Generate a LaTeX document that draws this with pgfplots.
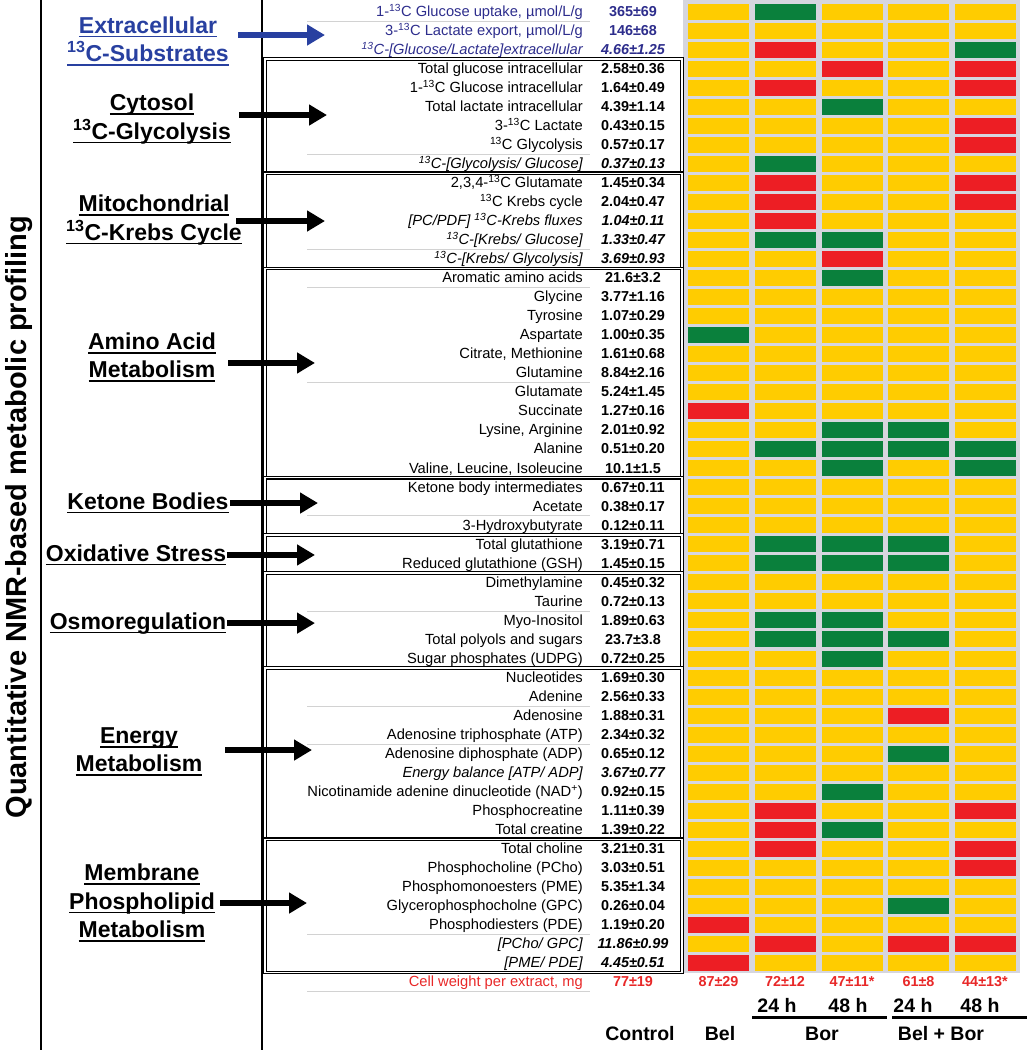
\documentclass[border=0pt]{standalone}
\usepackage{pgfplots}
\pgfplotsset{compat=1.18}
\usepackage{pgfplotstable}
\usepackage{fontspec}
\setmainfont{Liberation Sans}
\usetikzlibrary{arrows.meta}

\definecolor{cy}{RGB}{255,204,0}
\definecolor{cg}{RGB}{10,128,60}
\definecolor{cr}{RGB}{237,30,36}
\definecolor{cbg}{RGB}{214,214,222}
\definecolor{cblue}{RGB}{45,45,140}
\definecolor{cblue2}{RGB}{40,64,160}
\definecolor{cred}{RGB}{232,40,40}

% one cell of the grid: 61 x 16
\pgfdeclareplotmark{cell}{\pgfpathrectangle{\pgfpoint{-30.5pt}{-8pt}}{\pgfpoint{61pt}{16pt}}\pgfusepathqfill}

\newcommand\ul[2][black]{\setbox0\hbox{#2}\rlap{\color{#1}\rule[-4.2pt]{\wd0}{1.7pt}}\box0}

% Y = yellow (no change), G = green, R = red
\pgfplotstableread{
row Bel Bor24 Bor48 BB24 BB48
1 Y G Y Y Y
2 Y Y Y Y Y
3 Y R Y Y G
4 Y Y R Y R
5 Y R Y Y R
6 Y Y G Y Y
7 Y Y Y Y R
8 Y Y Y Y R
9 Y G Y Y Y
10 Y R Y Y R
11 Y R Y Y R
12 Y R Y Y Y
13 Y G G Y Y
14 Y Y R Y Y
15 Y Y G Y Y
16 Y Y Y Y Y
17 Y Y Y Y Y
18 G Y Y Y Y
19 Y Y Y Y Y
20 Y Y Y Y Y
21 Y Y Y Y Y
22 R Y Y Y Y
23 Y Y G G Y
24 Y G G G G
25 Y Y G Y G
26 Y Y Y Y Y
27 Y Y Y Y Y
28 Y Y Y Y Y
29 Y G G G Y
30 Y G G G Y
31 Y Y Y Y Y
32 Y Y Y Y Y
33 Y G G Y Y
34 Y G G G Y
35 Y Y G Y Y
36 Y Y Y Y Y
37 Y Y Y Y Y
38 Y Y Y R Y
39 Y Y Y Y Y
40 Y Y Y G Y
41 Y Y Y Y Y
42 Y Y G Y Y
43 Y R Y Y R
44 Y R G Y Y
45 Y R Y Y R
46 Y Y Y Y R
47 Y Y Y Y Y
48 Y Y Y G Y
49 R Y Y Y Y
50 Y R Y R R
51 R Y Y Y Y
}\cells

\pgfplotsset{
  cellplot/.style={scatter, only marks, point meta=explicit symbolic,
    scatter/classes={Y={mark=cell,fill=cy},G={mark=cell,fill=cg},R={mark=cell,fill=cr}}},
}
\tikzset{
  lab/.style={anchor=base east, yshift=-4.8pt, inner sep=0pt, font=\fontsize{14.7}{16}\selectfont},
  val/.style={anchor=base, yshift=-4.8pt, inner sep=0pt, font=\fontsize{14.4}{16}\selectfont\bfseries},
  grp/.style={align=center, inner sep=0pt, font=\fontsize{23}{28.5}\selectfont\bfseries},
  hdr/.style={anchor=base, inner sep=0pt, font=\fontsize{19.5}{22}\selectfont\bfseries},
  arr/.style={line width=6pt, -{Triangle[length=18pt,width=20pt]}},
  box/.style={double, line width=1.1pt, double distance=1.5pt},
}
\newcommand\rl[3]{\node[lab] at (axis cs:583,#1) {#2};\node[val] at (axis cs:633,#1) {#3};}

\begin{document}
\begin{tikzpicture}
\useasboundingbox (0,0) rectangle (1032pt,1050pt);
\begin{axis}[
  at={(0,0)}, anchor=south west,
  width=1032pt, height=1050pt, scale only axis,
  xmin=0, xmax=1032, ymin=0.397, ymax=55.574,
  y dir=reverse, hide axis, clip=false,
]
% grey ground of the grid
\fill[cbg] (axis cs:683,0.397) rectangle (axis cs:1020,51.53);

\addplot[cellplot] table[x expr=718.5, y=row, meta=Bel]   {\cells};
\addplot[cellplot] table[x expr=785,   y=row, meta=Bor24] {\cells};
\addplot[cellplot] table[x expr=852,   y=row, meta=Bor48] {\cells};
\addplot[cellplot] table[x expr=918.5, y=row, meta=BB24]  {\cells};
\addplot[cellplot] table[x expr=985,   y=row, meta=BB48]  {\cells};

% frame lines
\draw[line width=1.3pt] (axis cs:41,0.397) -- (axis cs:41,55.574);
\draw[line width=1.3pt] (axis cs:262,0.397) -- (axis cs:262,55.574);

% thin grey rules under some rows
\pgfplotsinvokeforeach{1.5,8.5,13.5,15.5,20.5,27.5,32.5,37.5,39.5,49.5,52.5}{
  \draw[gray!35, line width=0.8pt] (axis cs:307,#1) -- (axis cs:590,#1);
}

% group boxes
\draw[box] (axis cs:265,3.5) rectangle (axis cs:682,9.5);
\draw[box] (axis cs:265,9.5) rectangle (axis cs:682,14.5);
\draw[box] (axis cs:265,14.5) rectangle (axis cs:682,25.5);
\draw[box] (axis cs:265,25.5) rectangle (axis cs:682,28.5);
\draw[box] (axis cs:265,28.5) rectangle (axis cs:682,30.5);
\draw[box] (axis cs:265,30.5) rectangle (axis cs:682,35.5);
\draw[box] (axis cs:265,35.5) rectangle (axis cs:682,44.5);
\draw[box] (axis cs:265,44.5) rectangle (axis cs:682,51.5);

% row labels and control values
\begin{scope}[cblue]
\rl{1}{1-\textsuperscript{13}C Glucose uptake, µmol/L/g}{365±69}
\rl{2}{3-\textsuperscript{13}C Lactate export, µmol/L/g}{146±68}
\rl{3}{\itshape\textsuperscript{13}C-[Glucose/Lactate]extracellular}{\itshape 4.66±1.25}
\end{scope}
\rl{4}{Total glucose intracellular}{2.58±0.36}
\rl{5}{1-\textsuperscript{13}C Glucose intracellular}{1.64±0.49}
\rl{6}{Total lactate intracellular}{4.39±1.14}
\rl{7}{3-\textsuperscript{13}C Lactate}{0.43±0.15}
\rl{8}{\textsuperscript{13}C Glycolysis}{0.57±0.17}
\rl{9}{\itshape\textsuperscript{13}C-[Glycolysis/ Glucose]}{\itshape 0.37±0.13}
\rl{10}{2,3,4-\textsuperscript{13}C Glutamate}{1.45±0.34}
\rl{11}{\textsuperscript{13}C Krebs cycle}{2.04±0.47}
\rl{12}{\itshape [PC/PDF] \textsuperscript{13}C-Krebs fluxes}{\itshape 1.04±0.11}
\rl{13}{\itshape\textsuperscript{13}C-[Krebs/ Glucose]}{\itshape 1.33±0.47}
\rl{14}{\itshape\textsuperscript{13}C-[Krebs/ Glycolysis]}{\itshape 3.69±0.93}
\rl{15}{Aromatic amino acids}{21.6±3.2}
\rl{16}{Glycine}{3.77±1.16}
\rl{17}{Tyrosine}{1.07±0.29}
\rl{18}{Aspartate}{1.00±0.35}
\rl{19}{Citrate, Methionine}{1.61±0.68}
\rl{20}{Glutamine}{8.84±2.16}
\rl{21}{Glutamate}{5.24±1.45}
\rl{22}{Succinate}{1.27±0.16}
\rl{23}{Lysine, Arginine}{2.01±0.92}
\rl{24}{Alanine}{0.51±0.20}
\rl{25}{Valine, Leucine, Isoleucine}{10.1±1.5}
\rl{26}{Ketone body intermediates}{0.67±0.11}
\rl{27}{Acetate}{0.38±0.17}
\rl{28}{3-Hydroxybutyrate}{0.12±0.11}
\rl{29}{Total glutathione}{3.19±0.71}
\rl{30}{Reduced glutathione (GSH)}{1.45±0.15}
\rl{31}{Dimethylamine}{0.45±0.32}
\rl{32}{Taurine}{0.72±0.13}
\rl{33}{Myo-Inositol}{1.89±0.63}
\rl{34}{Total polyols and sugars}{23.7±3.8}
\rl{35}{Sugar phosphates (UDPG)}{0.72±0.25}
\rl{36}{Nucleotides}{1.69±0.30}
\rl{37}{Adenine}{2.56±0.33}
\rl{38}{Adenosine}{1.88±0.31}
\rl{39}{Adenosine triphosphate (ATP)}{2.34±0.32}
\rl{40}{Adenosine diphosphate (ADP)}{0.65±0.12}
\rl{41}{\itshape Energy balance [ATP/ ADP]}{\itshape 3.67±0.77}
\rl{42}{Nicotinamide adenine dinucleotide (NAD\textsuperscript{+})}{0.92±0.15}
\rl{43}{Phosphocreatine}{1.11±0.39}
\rl{44}{Total creatine}{1.39±0.22}
\rl{45}{Total choline}{3.21±0.31}
\rl{46}{Phosphocholine (PCho)}{3.03±0.51}
\rl{47}{Phosphomonoesters (PME)}{5.35±1.34}
\rl{48}{Glycerophosphocholne (GPC)}{0.26±0.04}
\rl{49}{Phosphodiesters (PDE)}{1.19±0.20}
\rl{50}{\itshape [PCho/ GPC]}{\itshape 11.86±0.99}
\rl{51}{\itshape [PME/ PDE]}{\itshape 4.45±0.51}
\begin{scope}[cred]
\rl{52}{Cell weight per extract, mg}{77±19}
\node[val] at (axis cs:718.5,52) {87±29};
\node[val] at (axis cs:785,52) {72±12};
\node[val] at (axis cs:852,52) {47±11*};
\node[val] at (axis cs:918.5,52) {61±8};
\node[val] at (axis cs:985,52) {44±13*};
\end{scope}

% column headers
\node[hdr] at (axis cs:777,53.58) {24 h};
\node[hdr] at (axis cs:848,53.58) {48 h};
\node[hdr] at (axis cs:913,53.58) {24 h};
\node[hdr] at (axis cs:980,53.58) {48 h};
\draw[line width=3pt] (axis cs:752,53.84) -- (axis cs:887,53.84);
\draw[line width=3pt] (axis cs:892,53.84) -- (axis cs:1027,53.84);
\node[hdr] at (axis cs:640,55.05) {Control};
\node[hdr] at (axis cs:720,55.05) {Bel};
\node[hdr] at (axis cs:822,55.05) {Bor};
\node[hdr] at (axis cs:941,55.05) {Bel + Bor};

% side title
\node[rotate=90, inner sep=0pt, font=\fontsize{29}{32}\selectfont\bfseries] at (axis cs:19,27.57) {Quantitative NMR-based metabolic profiling};

% group names and arrows
\node[grp, cblue2] at (axis cs:148,2.552) {\ul[cblue2]{Extracellular}\\\ul[cblue2]{\textsuperscript{13}C-Substrates}};
\draw[arr, cblue2] (axis cs:238,2.236) -- (axis cs:325,2.236);
\node[grp] at (axis cs:152,6.65) {\ul{Cytosol}\\\ul{\textsuperscript{13}C-Glycolysis}};
\draw[arr] (axis cs:239,6.44) -- (axis cs:327,6.44);
\node[grp] at (axis cs:154,11.96) {\ul{Mitochondrial}\\\ul{\textsuperscript{13}C-Krebs Cycle}};
\draw[arr] (axis cs:236,12.01) -- (axis cs:325,12.01);
\node[grp] at (axis cs:152,19.18) {\ul{Amino Acid}\\\ul{Metabolism}};
\draw[arr] (axis cs:228,19.47) -- (axis cs:315,19.47);
\node[grp] at (axis cs:148,26.83) {\ul{Ketone Bodies}};
\draw[arr] (axis cs:230,26.83) -- (axis cs:318,26.83);
\node[grp] at (axis cs:136,29.56) {\ul{Oxidative Stress}};
\draw[arr] (axis cs:227,29.56) -- (axis cs:315,29.56);
\node[grp] at (axis cs:138,33.14) {\ul{Osmoregulation}};
\draw[arr] (axis cs:227,33.14) -- (axis cs:315,33.14);
\node[grp] at (axis cs:139,39.91) {\ul{Energy}\\\ul{Metabolism}};
\draw[arr] (axis cs:225,39.81) -- (axis cs:312,39.81);
\node[grp] at (axis cs:142,47.85) {\ul{Membrane}\\\ul{Phospholipid}\\\ul{Metabolism}};
\draw[arr] (axis cs:220,47.85) -- (axis cs:307,47.85);
\end{axis}
\end{tikzpicture}
\end{document}
